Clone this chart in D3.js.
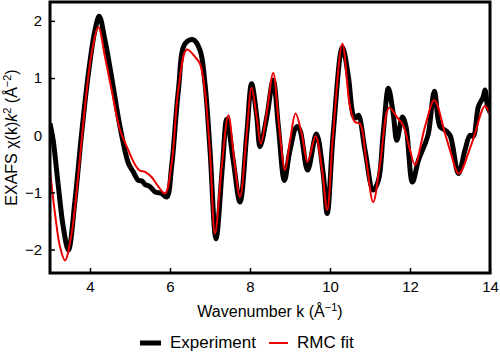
<!DOCTYPE html>
<html>
<head>
<meta charset="utf-8">
<script src="https://cdn.jsdelivr.net/npm/d3@7"></script>
<style>
  html, body { margin: 0; padding: 0; background: #fff; }
  svg { display: block; }
  text { font-family: "Liberation Sans", Arial, sans-serif; }
</style>
</head>
<body>
<svg id="chart" width="500" height="359"></svg>
<script>
// ---- data ----
const xTicks = [4, 6, 8, 10, 12, 14];
const yTicks = [-2, -1, 0, 1, 2];

const expK = [3.00, 3.08, 3.21, 3.33, 3.46, 3.625, 3.79, 3.96, 4.125, 4.23, 4.375, 4.54, 4.75, 4.96, 5.08, 5.21, 5.30, 5.375, 5.50, 5.625, 5.79, 5.92, 6.04, 6.21, 6.375, 6.58, 6.75, 6.875, 7.00, 7.15, 7.31, 7.42, 7.58, 7.75, 7.92, 8.04, 8.17, 8.25, 8.42, 8.58, 8.71, 8.86, 9.00, 9.17, 9.25, 9.44, 9.66, 9.83, 9.93, 10.08, 10.31, 10.46, 10.58, 10.64, 10.71, 10.875, 11.08, 11.21, 11.33, 11.46, 11.58, 11.67, 11.81, 11.90, 12.06, 12.21, 12.375, 12.46, 12.61, 12.75, 12.875, 13.00, 13.21, 13.375, 13.50, 13.58, 13.71, 13.83, 13.875, 13.94, 14.00];
const expValues = [0.21, -0.09, -0.90, -1.60, -2.01, -1.14, 0.03, 1.08, 1.84, 2.08, 1.66, 1.02, 0.15, -0.49, -0.64, -0.79, -0.80, -0.86, -0.90, -0.99, -1.02, -1.08, -0.55, 0.79, 1.60, 1.67, 1.49, 0.90, -0.26, -1.81, -0.55, 0.28, -0.44, -1.17, 0.03, 0.90, 0.32, -0.20, 0.32, 0.96, 0.15, -0.79, -0.26, 0.15, 0.09, -0.61, 0.02, -0.67, -1.37, 0.03, 1.54, 1.02, 0.35, 0.30, 0.35, -0.26, -0.96, -0.79, 0.03, 0.82, 0.38, -0.09, 0.32, 0.15, -0.82, -0.44, -0.15, 0.03, 0.77, 0.15, 0.09, 0.00, -0.67, -0.26, 0.00, -0.02, 0.50, 0.67, 0.79, 0.50, 0.40];

const fitK = [3.00, 3.125, 3.25, 3.375, 3.54, 3.71, 3.875, 4.04, 4.21, 4.375, 4.54, 4.75, 4.92, 5.13, 5.25, 5.375, 5.54, 5.71, 5.875, 6.04, 6.21, 6.42, 6.625, 6.75, 6.875, 7.00, 7.125, 7.30, 7.46, 7.60, 7.75, 7.92, 8.04, 8.17, 8.27, 8.42, 8.58, 8.72, 8.875, 9.00, 9.14, 9.30, 9.44, 9.64, 9.80, 9.93, 10.08, 10.31, 10.50, 10.625, 10.75, 10.90, 11.08, 11.25, 11.48, 11.67, 11.83, 12.00, 12.125, 12.375, 12.61, 12.875, 13.00, 13.22, 13.54, 13.875, 14.00];
const fitValues = [-0.61, -1.37, -1.95, -2.19, -1.72, -0.67, 0.50, 1.43, 1.89, 1.37, 0.79, 0.09, -0.20, -0.52, -0.62, -0.64, -0.73, -0.90, -1.02, -0.50, 0.80, 1.50, 1.37, 1.25, 0.75, -0.30, -1.72, -0.50, 0.35, -0.40, -1.08, 0.05, 0.83, 0.30, -0.15, 0.40, 1.09, 0.20, -0.61, -0.10, 0.38, 0.00, -0.47, -0.02, -0.60, -1.31, 0.05, 1.60, 0.50, 0.23, 0.20, -0.40, -1.17, -0.50, 0.48, 0.32, 0.17, -0.26, -0.52, 0.15, 0.61, 0.03, -0.26, -0.67, -0.15, 0.51, 0.35];

const seriesNames = ["Experiment", "RMC fit"];

// ---- layout ----
const svg = d3.select("#chart");
const mLeft = 50, mRight = 490, mTop = 2, mBottom = 273;

const x = d3.scaleLinear().domain([3, 14]).range([mLeft, mRight]);
const y = d3.scaleLinear().domain([-2.41, 2.33]).range([mBottom, mTop]);

svg.append("clipPath").attr("id", "clip")
  .append("rect").attr("x", mLeft).attr("y", mTop)
  .attr("width", mRight - mLeft).attr("height", mBottom - mTop);

const line = d3.line()
  .x(d => x(d[0])).y(d => y(d[1]))
  .curve(d3.curveCatmullRom.alpha(0.5));

const expData = expK.map((k, i) => [k, expValues[i]]);
const fitData = fitK.map((k, i) => [k, fitValues[i]]);

const plot = svg.append("g").attr("clip-path", "url(#clip)");
plot.append("path").datum(expData)
  .attr("d", line).attr("fill", "none")
  .attr("stroke", "#000").attr("stroke-width", 5)
  .attr("stroke-linejoin", "round");
plot.append("path").datum(fitData)
  .attr("d", line).attr("fill", "none")
  .attr("stroke", "#ee0000").attr("stroke-width", 2)
  .attr("stroke-linejoin", "round");

// axes (inward ticks)
const xAxis = svg.append("g").attr("transform", `translate(0,${mBottom})`)
  .call(d3.axisBottom(x).tickValues(xTicks).tickSizeInner(-5).tickSizeOuter(0).tickPadding(8)
    .tickFormat(d3.format("d")));
const yAxis = svg.append("g").attr("transform", `translate(${mLeft},0)`)
  .call(d3.axisLeft(y).tickValues(yTicks).tickSizeInner(-5).tickSizeOuter(0).tickPadding(8)
    .tickFormat(d => d < 0 ? "\u2212" + Math.abs(d) : d));
[xAxis, yAxis].forEach(a => {
  a.select(".domain").remove();
  a.selectAll(".tick line").attr("stroke", "#000").attr("stroke-width", 1.5);
  a.selectAll(".tick text").attr("font-size", 15).attr("fill", "#000")
    .style("font-family", '"Liberation Sans", Arial, sans-serif');
});

// frame
svg.append("rect").attr("x", mLeft).attr("y", mTop)
  .attr("width", mRight - mLeft).attr("height", mBottom - mTop)
  .attr("fill", "none").attr("stroke", "#000").attr("stroke-width", 3);

// axis titles
const xt = svg.append("text").attr("x", (mLeft + mRight) / 2).attr("y", 317)
  .attr("text-anchor", "middle").attr("font-size", 16).attr("fill", "#000");
xt.append("tspan").text("Wavenumber k (Å");
xt.append("tspan").attr("font-size", 11).attr("dy", -6).text("\u22121");
xt.append("tspan").attr("dy", 6).text(")");

const yt = svg.append("text")
  .attr("transform", `translate(17,${(mTop + mBottom) / 2}) rotate(-90)`)
  .attr("text-anchor", "middle").attr("font-size", 16).attr("fill", "#000");
yt.append("tspan").text("EXAFS χ(k)");
yt.append("tspan").attr("font-style", "italic").text("k");
yt.append("tspan").attr("font-size", 11).attr("dy", -6).text("2");
yt.append("tspan").attr("dy", 6).text(" (Å");
yt.append("tspan").attr("font-size", 11).attr("dy", -6).text("\u22122");
yt.append("tspan").attr("dy", 6).text(")");

// legend
const lg = svg.append("g");
lg.append("line").attr("x1", 140).attr("x2", 161).attr("y1", 343).attr("y2", 343)
  .attr("stroke", "#000").attr("stroke-width", 5);
lg.append("text").attr("x", 170).attr("y", 348).attr("font-size", 17).attr("fill", "#000").text(seriesNames[0]);
lg.append("line").attr("x1", 269).attr("x2", 288).attr("y1", 343).attr("y2", 343)
  .attr("stroke", "#ee0000").attr("stroke-width", 2);
lg.append("text").attr("x", 297).attr("y", 348).attr("font-size", 17).attr("fill", "#000").text(seriesNames[1]);
</script>
</body>
</html>
